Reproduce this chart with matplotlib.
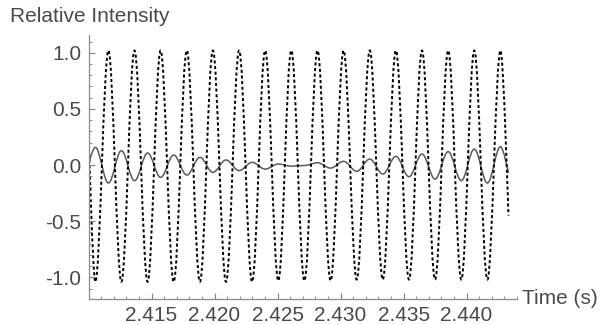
import matplotlib
matplotlib.use('Agg')
import matplotlib.pyplot as plt
from matplotlib.path import Path
from matplotlib.patches import PathPatch
from matplotlib.ticker import MultipleLocator, FormatStrFormatter

# times (s) of the curve start, each peak / trough, and the curve end
times = [2.41000,
         2.41054, 2.41158, 2.41261, 2.41365, 2.41469, 2.41572, 2.41676, 2.41780,
         2.41884, 2.41987, 2.42091, 2.42195, 2.42298, 2.42402, 2.42506, 2.42609,
         2.42713, 2.42817, 2.42921, 2.43024, 2.43128, 2.43232, 2.43335, 2.43439,
         2.43543, 2.43646, 2.43750, 2.43854, 2.43958, 2.44061, 2.44165, 2.44269,
         2.44332]

# dotted curve values at those times
dotted = [0.30,
          -1.04, 1.02, -1.04, 1.02, -1.04, 1.02, -1.04, 1.02,
          -1.04, 1.02, -1.04, 1.02, -1.04, 1.02, -1.03, 1.02,
          -1.03, 1.02, -1.03, 1.02, -1.02, 1.02, -1.02, 1.02,
          -1.02, 1.02, -1.02, 1.02, -1.02, 1.02, -1.02, 1.02,
          -0.45]

# solid curve values at those times
solid = [0.01,
         0.157, -0.160, 0.128, -0.139, 0.107, -0.110, 0.089, -0.089,
         0.068, -0.065, 0.045, -0.050, 0.024, -0.036, 0.009, -0.010,
         -0.004, 0.020, -0.027, 0.033, -0.056, 0.053, -0.080, 0.077,
         -0.104, 0.098, -0.125, 0.119, -0.139, 0.142, -0.160, 0.163,
         -0.07]

x_ticks = [2.415, 2.420, 2.425, 2.430, 2.435, 2.440]
y_ticks = [-1.0, -0.5, 0.0, 0.5, 1.0]


def wave_path(ts, ys):
    # cubic bezier segments with flat tangents at each extremum
    k = 0.3634
    verts = [(ts[0], ys[0])]
    codes = [Path.MOVETO]
    last = len(ts) - 1
    for i in range(1, len(ts)):
        dt = ts[i] - ts[i - 1]
        c1 = (ts[i - 1] + k * dt, ys[i - 1]) if i > 1 else (ts[0], ys[0])
        c2 = (ts[i] - k * dt, ys[i]) if i < last else (ts[i], ys[i])
        verts += [c1, c2, (ts[i], ys[i])]
        codes += [Path.CURVE4] * 3
    return Path(verts, codes)


plt.rcParams['font.family'] = ['Liberation Sans', 'DejaVu Sans']

fig = plt.figure(figsize=(6.03, 3.24), dpi=100)
ax = fig.add_axes([88.5 / 603, 25 / 324, (517 - 88.5) / 603, (299 - 35) / 324])

ax.add_patch(PathPatch(wave_path(times, solid), fill=False,
                       edgecolor='#5a5a5a', linewidth=1.1))
ax.add_patch(PathPatch(wave_path(times, dotted), fill=False,
                       edgecolor='black', linewidth=1.4,
                       linestyle=(0, (1.6, 1.3))))

ax.set_xlim(2.4100, 2.4440)
ax.set_ylim(-1.193, 1.158)

for s in ['top', 'right']:
    ax.spines[s].set_visible(False)
for s in ['left', 'bottom']:
    ax.spines[s].set_color('#8a8a8a')
    ax.spines[s].set_linewidth(0.9)

ax.set_xticks(x_ticks)
ax.xaxis.set_minor_locator(MultipleLocator(0.001))
ax.xaxis.set_major_formatter(FormatStrFormatter('%.3f'))
ax.set_yticks(y_ticks)
ax.yaxis.set_minor_locator(MultipleLocator(0.1))
ax.yaxis.set_major_formatter(FormatStrFormatter('%.1f'))

ax.tick_params(which='both', direction='in', color='#8a8a8a',
               labelsize=15, labelcolor='#4a4a4a')
ax.tick_params(which='major', length=4, width=0.9, pad=5)
ax.tick_params(which='minor', length=2.2, width=0.7)

ax.text(1.012, 0, 'Time (s)', transform=ax.transAxes, ha='left', va='center',
        fontsize=15, color='#4a4a4a')
fig.text(10 / 603, 1 - 17 / 324, 'Relative Intensity', ha='left', va='center',
         fontsize=15, color='#4a4a4a')

fig.savefig('out.png', dpi=100)
